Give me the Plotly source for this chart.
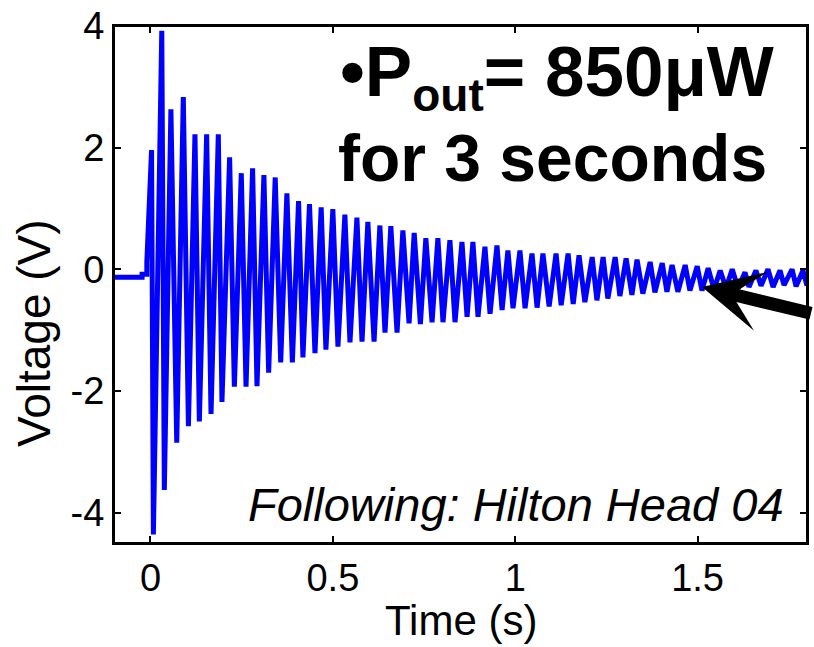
import plotly.graph_objects as go

# ---- data ----
# pre-trigger baseline (time s, voltage V)
pre_t = [-0.100, -0.023, -0.023, -0.010, -0.010]
pre_v = [-0.13, -0.13, -0.08, -0.08, 0.12]

# positive peaks of each oscillation cycle
pos_t = [0.003, 0.031, 0.056, 0.090, 0.122, 0.154, 0.186, 0.217, 0.249, 0.280,
         0.311, 0.342, 0.374, 0.406, 0.436, 0.468, 0.500, 0.533, 0.566, 0.596,
         0.629, 0.659, 0.692, 0.723, 0.755, 0.788, 0.821, 0.854, 0.884, 0.917,
         0.950, 0.980, 1.013, 1.046, 1.076, 1.112, 1.145, 1.175, 1.211, 1.241,
         1.274, 1.304, 1.334, 1.370, 1.403, 1.430, 1.466, 1.499, 1.529, 1.562,
         1.595, 1.630, 1.660, 1.693, 1.726, 1.759, 1.789]
pos_v = [1.96, 3.92, 2.63, 2.83, 2.22, 2.22, 2.22, 1.84, 1.58, 1.66,
         1.55, 1.51, 1.25, 1.12, 1.07, 1.02, 0.99, 0.90, 0.85, 0.78,
         0.72, 0.71, 0.64, 0.60, 0.51, 0.51, 0.48, 0.45, 0.45, 0.37,
         0.39, 0.31, 0.31, 0.26, 0.26, 0.26, 0.26, 0.23, 0.20, 0.20,
         0.20, 0.18, 0.16, 0.12, 0.10, 0.07, 0.07, 0.05, 0.02, -0.02,
         0.00, -0.05, -0.02, 0.00, -0.02, 0.00, -0.02]

# negative troughs of each oscillation cycle
neg_t = [0.008, 0.038, 0.072, 0.104, 0.134, 0.166, 0.196, 0.230, 0.262, 0.292,
         0.324, 0.357, 0.389, 0.418, 0.451, 0.481, 0.514, 0.547, 0.580, 0.613,
         0.643, 0.676, 0.709, 0.740, 0.772, 0.802, 0.835, 0.868, 0.898, 0.931,
         0.964, 0.994, 1.027, 1.060, 1.093, 1.126, 1.159, 1.191, 1.224, 1.254,
         1.287, 1.320, 1.350, 1.383, 1.416, 1.446, 1.479, 1.512, 1.545, 1.578,
         1.611, 1.641, 1.674, 1.707, 1.737, 1.770, 1.800]
neg_v = [-4.36, -3.63, -2.85, -2.58, -2.50, -2.38, -2.18, -1.93, -1.93, -1.92,
         -1.70, -1.53, -1.53, -1.45, -1.38, -1.32, -1.27, -1.20, -1.19, -1.19,
         -1.04, -1.04, -0.89, -0.90, -0.87, -0.87, -0.87, -0.78, -0.78, -0.73,
         -0.67, -0.64, -0.64, -0.63, -0.61, -0.59, -0.57, -0.54, -0.51, -0.48,
         -0.44, -0.42, -0.40, -0.38, -0.37, -0.37, -0.35, -0.35, -0.33, -0.31,
         -0.31, -0.29, -0.27, -0.29, -0.26, -0.28, -0.27]

x_ticks = [0, 0.5, 1, 1.5]
x_tick_labels = ["0", "0.5", "1", "1.5"]
y_ticks = [-4, -2, 0, 2, 4]
y_tick_labels = ["-4", "-2", "0", "2", "4"]

# ---- build the trace from the arrays ----
t = list(pre_t)
v = list(pre_v)
for tp, vp, tn, vn in zip(pos_t, pos_v, neg_t, neg_v):
    t += [tp, tn]
    v += [vp, vn]

FONT = "Liberation Sans, Arial, Helvetica, sans-serif"

W, H = 814, 647
L, R, T, B = 114, 807, 26, 543          # plot box in pixels
def px(x):
    return (x - L) / (R - L)
def py(y):
    return (B - y) / (B - T)

fig = go.Figure()
fig.add_trace(go.Scatter(x=t, y=v, mode="lines",
                         line=dict(color="#0000FF", width=5),
                         showlegend=False, hoverinfo="skip"))

axis_common = dict(showline=True, linecolor="black", linewidth=2, mirror="ticks",
                   ticks="inside", ticklen=7, tickwidth=2, tickcolor="black",
                   showgrid=False, zeroline=False, automargin=False,
                   ticklabeloverflow="allow",
                   tickfont=dict(family=FONT, size=38, color="black"))

fig.update_xaxes(range=[-0.1, 1.8], tickvals=x_ticks, ticktext=x_tick_labels,
                 **axis_common)
fig.update_yaxes(range=[-4.5, 4.0], tickvals=y_ticks, ticktext=y_tick_labels,
                 **axis_common)

# plot frame
fig.add_shape(type="rect", xref="paper", yref="paper", x0=0, x1=1, y0=0, y1=1,
              line=dict(color="black", width=2), fillcolor="rgba(0,0,0,0)", layer="above")

# axis titles
fig.add_annotation(xref="paper", yref="paper", x=px(461), y=py(620),
                   xanchor="center", yanchor="middle", showarrow=False,
                   text="Time (s)", font=dict(family=FONT, size=42, color="black"))
fig.add_annotation(xref="paper", yref="paper", x=px(34), y=py(333),
                   xanchor="center", yanchor="middle", showarrow=False, textangle=-90,
                   text="Voltage (V)", font=dict(family=FONT, size=46, color="black"))

fig.add_annotation(xref="paper", yref="paper", x=px(338), y=py(76),
                   xanchor="left", yanchor="middle", showarrow=False,
                   text="<b>•P<sub><span style=\"font-size:46px\">out</span></sub>= 850μW</b>",
                   font=dict(family=FONT, size=71, color="black"))
fig.add_annotation(xref="paper", yref="paper", x=px(336), y=py(158),
                   xanchor="left", yanchor="middle", showarrow=False,
                   text="<b>for 3 seconds</b>",
                   font=dict(family=FONT, size=66, color="black"))
fig.add_annotation(xref="paper", yref="paper", x=px(786), y=py(504),
                   xanchor="right", yanchor="middle", showarrow=False,
                   text="<i>Following: Hilton Head 04</i>",
                   font=dict(family=FONT, size=47, color="black"))

# pointer arrow
fig.add_annotation(xref="paper", yref="paper", x=px(702), y=py(287),
                   ax=140, ay=27, axref="pixel", ayref="pixel",
                   showarrow=True, arrowhead=3, arrowwidth=13, arrowsize=0.78,
                   arrowcolor="black", text=" ", standoff=0)

fig.update_layout(width=W, height=H,
                  margin=dict(l=L, r=W - R, t=T, b=H - B),
                  plot_bgcolor="white", paper_bgcolor="white",
                  font=dict(family=FONT, color="black"))

# remove the default page margin so the figure fills the window exactly
fig.write_html("out.html", config={"displayModeBar": False},
               post_script="document.body.style.margin='0';document.body.style.overflow='hidden';")
